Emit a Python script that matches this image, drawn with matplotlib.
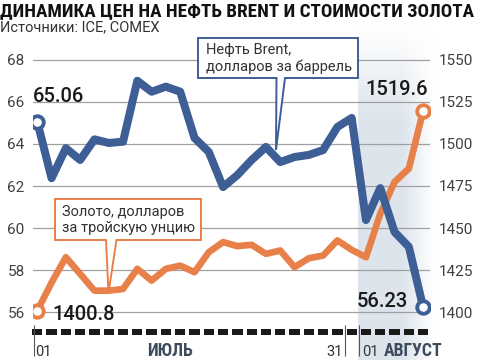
import numpy as np
import matplotlib
matplotlib.use("Agg")
import matplotlib.pyplot as plt
from matplotlib import font_manager
from matplotlib.transforms import Affine2D
from matplotlib.patches import Polygon

# --- data: trading days from 1 July to 7 August ---
brent = [65.06, 62.37, 63.80, 63.24, 64.22, 64.05, 64.11, 67.01, 66.49, 66.73,
         66.49, 64.29, 63.62, 61.95, 62.52, 63.24, 63.86, 63.14, 63.38, 63.48,
         63.71, 64.81, 65.24, 60.38, 61.90, 59.81, 59.10, 56.23]
gold = [1400.8, 1417.5, 1432.6, 1422.7, 1412.7, 1412.7, 1413.7, 1425.7, 1418.7, 1425.7,
        1427.6, 1423.7, 1435.6, 1441.6, 1439.2, 1440.0, 1434.6, 1436.6, 1426.7, 1432.0,
        1433.6, 1442.6, 1437.0, 1432.6, 1458.5, 1477.4, 1485.4, 1519.6]
brent_ticks = [56, 58, 60, 62, 64, 66, 68]
gold_ticks = [1400, 1425, 1450, 1475, 1500, 1525, 1550]

title = "ДИНАМИКА ЦЕН НА НЕФТЬ BRENT И СТОИМОСТИ ЗОЛОТА"
source = "Источники: ICE, COMEX"
brent_label = ["Нефть Brent,", "долларов за баррель"]
gold_label = ["Золото, долларов", "за тройскую унцию"]

BLUE = "#3e5f96"
ORANGE = "#e8804a"
W, H = 480, 360

# fonts: a narrow face for the headings if one is around
names = {f.name for f in font_manager.fontManager.ttflist}
narrow = next((n for n in ["Roboto Condensed", "Liberation Sans Narrow"] if n in names), None)
plt.rcParams["font.family"] = ["Roboto", "DejaVu Sans"]
head_font = narrow or "Roboto"
title_size = 13.8 if narrow else 12.3
month_size = 12.8 if narrow else 11

fig = plt.figure(figsize=(4.8, 3.6), dpi=100)
# pixel coordinates, origin top-left
px = Affine2D().scale(1 / W, -1 / H).translate(0, 1) + fig.transFigure

# --- shaded August band ---
bg = fig.add_axes([0, 0, 1, 1], zorder=-1)
bg.set_xlim(0, W)
bg.set_ylim(H, 0)
bg.axis("off")
xs = np.linspace(358, 434, 80)
ys = np.linspace(28, 360, 200)
a_x = np.clip((434 - xs) / 32, 0, 1)
a_y = np.clip((ys - 28) / 90, 0, 1)
rgba = np.zeros((len(ys), len(xs), 4))
rgba[..., :3] = matplotlib.colors.to_rgb("#dde4ec")
rgba[..., 3] = np.outer(a_y, a_x)
bg.imshow(rgba, extent=(358, 434, 360, 28), aspect="auto", interpolation="bilinear")

# --- axes ---
ax = fig.add_axes([33 / W, 1 - 322 / H, 397 / W, 272 / H])
ax2 = ax.twinx()
ax.set_zorder(2)
ax2.set_zorder(1)
ax.patch.set_visible(False)
ax2.patch.set_visible(False)

x = np.arange(len(brent))
ax.set_xlim(-0.30, 27.48)
ax.set_ylim(55.524, 68.476)
ax2.set_ylim(1394.05, 1555.95)
ax.set_yticks(brent_ticks)
ax2.set_yticks(gold_ticks)
ax.set_xticks([])
for a in (ax, ax2):
    for s in a.spines.values():
        s.set_visible(False)
    a.tick_params(length=0, pad=6, labelsize=11, labelcolor="#404040")
ax2.grid(axis="y", color="#a0a0a0", lw=0.9)
ax2.set_axisbelow(True)

# gold
ax2.plot(x, gold, color=ORANGE, lw=4.8, solid_joinstyle="round", solid_capstyle="round")
ax2.plot(x[[0, -1]], [gold[0], gold[-1]], "o", ms=9, mfc="white", mec=ORANGE, mew=2.8)
# brent
ax.plot(x, brent, color=BLUE, lw=5.8, solid_joinstyle="round", solid_capstyle="round")
ax.plot(x[[0, -1]], [brent[0], brent[-1]], "o", ms=9, mfc="white", mec=BLUE, mew=2.8)

# end values
val_kw = dict(textcoords="offset pixels", va="center", fontsize=14.5,
              fontweight="medium", color="#1a1a1a")
ax.annotate(f"{brent[0]:.2f}", xy=(x[0], brent[0]), xytext=(-4, 25), ha="left", **val_kw)
ax.annotate(f"{brent[-1]:.2f}", xy=(x[-1], brent[-1]), xytext=(-15, 6), ha="right", **val_kw)
ax2.annotate(f"{gold[0]:.1f}", xy=(x[0], gold[0]), xytext=(15, -4), ha="left", **val_kw)
ax2.annotate(f"{gold[-1]:.1f}", xy=(x[-1], gold[-1]), xytext=(5, 22), ha="right", **val_kw)

# day strip under the chart: one dash per trading day
ax.bar(x, 0.26, bottom=55.05 - 0.13, width=0.72, color="#1c1a18", clip_on=False)
ax.vlines([-0.25, 21.5, 22.5], 53.9, 55.38, color="#555555", lw=0.8, clip_on=False)
fig.text(35, 356, "01", transform=px, fontsize=10.5, color="#333333")
fig.text(343, 356, "31", transform=px, fontsize=10.5, color="#333333", ha="right")
fig.text(362, 356, "01", transform=px, fontsize=10.5, color="#333333")
fig.text(147, 356, "ИЮЛЬ", transform=px, family=head_font, fontweight="bold",
         fontsize=month_size, color="#3d4b5c")
fig.text(384, 356, "АВГУСТ", transform=px, family=head_font, fontweight="bold",
         fontsize=month_size, color="#3d4b5c")

# callouts
box1 = [(198, 38), (358, 38), (358, 78), (285, 78), (276, 150), (276.5, 78), (198, 78)]
box2 = [(55, 199), (201, 199), (201, 240), (116.5, 240), (108.5, 293), (106, 240), (55, 240)]
for pts, col in ((box1, BLUE), (box2, ORANGE)):
    fig.add_artist(Polygon(pts, closed=True, transform=px, facecolor="white",
                           edgecolor=col, lw=1.4, joinstyle="miter", zorder=5))
fig.text(206, 50, brent_label[0], transform=px, va="center", fontsize=10.5, color="#333333", zorder=6)
fig.text(206, 67, brent_label[1], transform=px, va="center", fontsize=10.5, color="#333333", zorder=6)
fig.text(62, 212, gold_label[0], transform=px, va="center", fontsize=10.5, color="#333333", zorder=6)
fig.text(62, 228, gold_label[1], transform=px, va="center", fontsize=10.5, color="#333333", zorder=6)

# heading
fig.text(0, 16, title, transform=px, family=head_font, fontweight="bold",
         fontsize=title_size, color="#111111", va="baseline")
fig.text(0, 27.5, source, transform=px, va="center", fontsize=10.5, color="#333333")

fig.savefig("out.png", dpi=100)
